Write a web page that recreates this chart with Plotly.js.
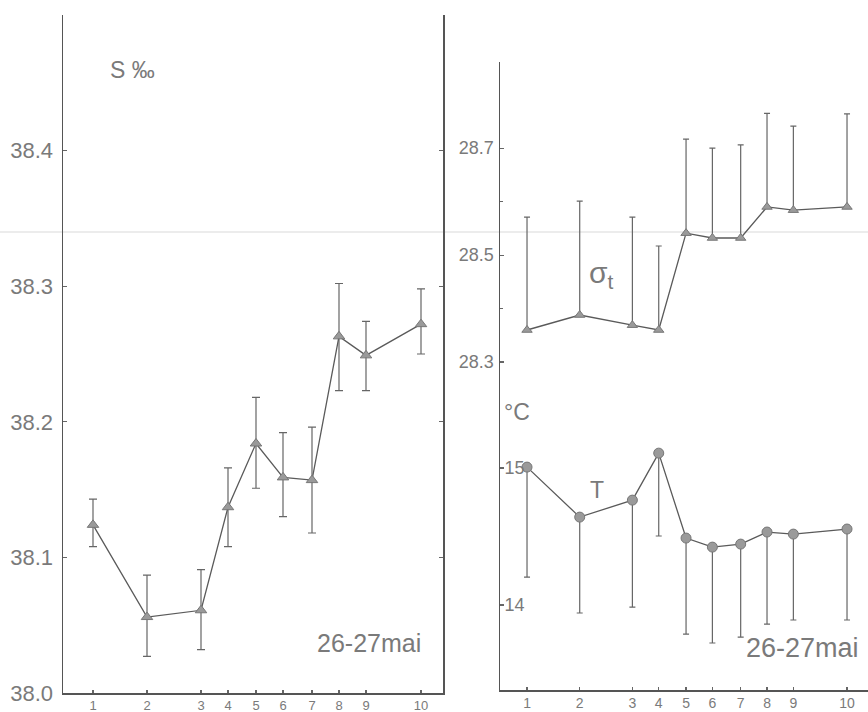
<!DOCTYPE html>
<html>
<head>
<meta charset="utf-8">
<script src="https://cdn.plot.ly/plotly-3.0.1.min.js"></script>
<style>html,body{margin:0;padding:0;background:#fff;}#chart{width:868px;height:712px;}</style>
</head>
<body>
<div id="chart"></div>
<script>
// Station positions along the section and their labels
var stationPos = [0, 5.4, 10.8, 13.5, 16.3, 19.0, 21.9, 24.6, 27.3, 32.8];
var stationLabels = ['1', '2', '3', '4', '5', '6', '7', '8', '9', '10'];

// Salinity S ‰ (mean, upper and lower deviation)
var salinity = [38.124, 38.056, 38.061, 38.137, 38.184, 38.159, 38.157, 38.263, 38.249, 38.272];
var salErrUp = [0.019, 0.031, 0.030, 0.029, 0.034, 0.033, 0.039, 0.039, 0.025, 0.026];
var salErrDown = [0.016, 0.029, 0.029, 0.029, 0.033, 0.029, 0.039, 0.040, 0.026, 0.022];

// Sigma-t (mean and upper deviation)
var sigmaT = [28.360, 28.388, 28.369, 28.360, 28.541, 28.532, 28.532, 28.590, 28.584, 28.590];
var sigmaErrUp = [0.211, 0.213, 0.202, 0.157, 0.176, 0.168, 0.174, 0.175, 0.157, 0.174];

// Temperature °C (mean and lower deviation)
var temperature = [15.007, 14.642, 14.766, 15.109, 14.489, 14.423, 14.445, 14.533, 14.518, 14.555];
var tempErrDown = [0.803, 0.700, 0.781, 0.605, 0.701, 0.700, 0.679, 0.672, 0.627, 0.664];

// Tick labels
var salTicks = [38.0, 38.1, 38.2, 38.3, 38.4];
var salTickText = ['38.0', '38.1', '38.2', '38.3', '38.4'];
var sigmaTicks = [28.3, 28.5, 28.7];
var sigmaTickText = ['28.3', '28.5', '28.7'];
var sigmaMinorTicks = [28.4, 28.6];
var tempTicks = [14, 15];
var tempTickText = ['14', '15'];

var W = 868, H = 712;
function px(x) { return x / W; }
function py(y) { return (H - y) / H; }

var lineCol = '#5a5a5a';
var markCol = '#9a9a9a';
var textCol = '#7a7a7a';
var fontFam = 'Liberation Sans, Arial, sans-serif';
var zeros = stationPos.map(function () { return 0; });

var traces = [
  {
    x: stationPos, y: salinity, xaxis: 'x', yaxis: 'y', type: 'scatter', mode: 'lines+markers',
    line: {color: lineCol, width: 1.3},
    marker: {symbol: 'triangle-up', size: 10, color: markCol, line: {color: '#777', width: 1}},
    error_y: {type: 'data', symmetric: false, array: salErrUp, arrayminus: salErrDown,
      color: '#666', thickness: 1.2, width: 4}
  },
  {
    x: stationPos, y: sigmaT, xaxis: 'x2', yaxis: 'y2', type: 'scatter', mode: 'lines+markers',
    line: {color: lineCol, width: 1.3},
    marker: {symbol: 'triangle-up', size: 9, color: markCol, line: {color: '#777', width: 1}},
    error_y: {type: 'data', symmetric: false, array: sigmaErrUp, arrayminus: zeros,
      color: '#666', thickness: 1.2, width: 3}
  },
  {
    x: stationPos, y: temperature, xaxis: 'x2', yaxis: 'y3', type: 'scatter', mode: 'lines+markers',
    line: {color: lineCol, width: 1.3},
    marker: {symbol: 'circle', size: 10, color: markCol, line: {color: '#777', width: 1}},
    error_y: {type: 'data', symmetric: false, array: zeros, arrayminus: tempErrDown,
      color: '#666', thickness: 1.2, width: 3}
  }
];

var axisCommon = {
  showgrid: false, zeroline: false, showline: true, linecolor: '#555', linewidth: 1.5,
  tickcolor: '#666', ticklen: 4, tickwidth: 1.2
};

var layout = {
  width: W, height: H,
  margin: {l: 0, r: 0, t: 0, b: 0},
  paper_bgcolor: '#fff', plot_bgcolor: 'rgba(0,0,0,0)',
  showlegend: false,
  font: {family: fontFam, color: textCol},
  xaxis: Object.assign({}, axisCommon, {
    domain: [px(63), px(443)], range: [-3.0, 35.0], anchor: 'y',
    tickvals: stationPos, ticktext: stationLabels, ticks: 'inside', ticklen: 3,
    ticklabelstandoff: 0,
    tickfont: {size: 13, color: textCol, family: fontFam}
  }),
  yaxis: Object.assign({}, axisCommon, {
    domain: [py(693), py(15)], range: [38.0, 38.5], anchor: 'x',
    tickvals: salTicks, ticktext: salTickText, ticks: 'inside', mirror: 'ticks',
    ticklabelstandoff: 4,
    tickfont: {size: 22, color: textCol, family: fontFam}
  }),
  xaxis2: Object.assign({}, axisCommon, {
    domain: [px(500), 1], range: [-2.77, 34.95], anchor: 'y2',
    tickvals: stationPos, ticktext: stationLabels, ticks: 'inside', ticklen: 3,
    ticklabelstandoff: 0,
    tickfont: {size: 14, color: textCol, family: fontFam}
  }),
  yaxis2: Object.assign({}, axisCommon, {
    domain: [py(690), py(62)], range: [27.687, 28.861], anchor: 'x2',
    tickvals: sigmaTicks, ticktext: sigmaTickText, ticks: 'inside',
    minor: {tickmode: 'array', tickvals: sigmaMinorTicks, ticks: 'inside', ticklen: 3, tickcolor: '#666'},
    ticklabelstandoff: 1,
    tickfont: {size: 18, color: textCol, family: fontFam}
  }),
  yaxis3: Object.assign({}, axisCommon, {
    overlaying: 'y2', anchor: 'x2', side: 'left', range: [13.380, 17.964],
    showline: false,
    tickvals: tempTicks, ticktext: tempTickText, ticks: 'inside',
    ticklabelposition: 'inside', ticklabelstandoff: 1,
    tickfont: {size: 18, color: textCol, family: fontFam}
  }),
  shapes: [
    {type: 'line', xref: 'paper', yref: 'paper', x0: 0, x1: 1, y0: py(232), y1: py(232),
     line: {color: '#ececec', width: 2}, layer: 'below'}
  ],
  annotations: [
    {text: 'S ‰', xref: 'paper', yref: 'paper', x: px(108), y: py(70), xanchor: 'left', yanchor: 'middle',
     showarrow: false, font: {size: 23, color: textCol, family: fontFam}},
    {text: '26-27mai', xref: 'paper', yref: 'paper', x: px(423), y: py(643), xanchor: 'right', yanchor: 'middle',
     showarrow: false, font: {size: 25, color: textCol, family: fontFam}},
    {text: '26-27mai', xref: 'paper', yref: 'paper', x: px(861), y: py(648), xanchor: 'right', yanchor: 'middle',
     showarrow: false, font: {size: 27, color: textCol, family: fontFam}},
    {text: 'σ<sub>t</sub>', xref: 'paper', yref: 'paper', x: px(587), y: py(274), xanchor: 'left', yanchor: 'middle',
     showarrow: false, font: {size: 30, color: textCol, family: fontFam}},
    {text: 'T', xref: 'paper', yref: 'paper', x: px(597), y: py(490), xanchor: 'center', yanchor: 'middle',
     showarrow: false, font: {size: 23, color: textCol, family: fontFam}},
    {text: '°C', xref: 'paper', yref: 'paper', x: px(502), y: py(412), xanchor: 'left', yanchor: 'middle',
     showarrow: false, font: {size: 23, color: textCol, family: fontFam}}
  ]
};

Plotly.newPlot('chart', traces, layout, {staticPlot: true, displayModeBar: false});
</script>
</body>
</html>
